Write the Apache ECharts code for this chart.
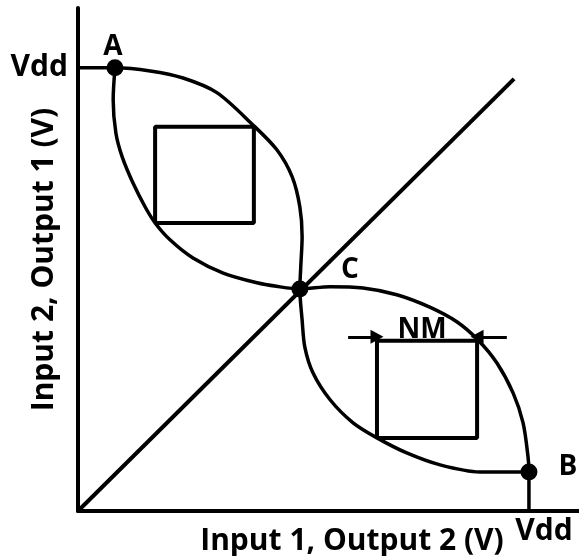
<!DOCTYPE html>
<html>
<head>
<meta charset="utf-8">
<script src="https://cdn.jsdelivr.net/npm/echarts@6/dist/echarts.min.js"></script>
<style>
  html, body { margin: 0; padding: 0; background: #fff; }
  #chart { width: 579px; height: 556px; }
</style>
</head>
<body>
<div id="chart"></div>
<script>
// voltages in units of Vdd (Vdd = 1)
// curve 1: Output 1 vs Input 1 (outer upper arc, then inner lower arc)
var curve1X = [0, 0.082, 0.160, 0.233, 0.308, 0.388, 0.441, 0.475, 0.492, 0.497, 0.494, 0.492,
               0.497, 0.503, 0.521, 0.559, 0.610, 0.663, 0.729, 0.803, 0.891, 1.0];
var curve1Y = [1.0, 1.0, 0.993, 0.977, 0.944, 0.871, 0.815, 0.754, 0.686, 0.619, 0.551, 0.501,
               0.431, 0.370, 0.312, 0.251, 0.199, 0.165, 0.131, 0.104, 0.088, 0.088];

// curve 2: Input 2 vs Output 2 (mirror transfer curve)
var curve2X = [1.0, 1.0, 0.998, 0.987, 0.965, 0.929, 0.887, 0.840, 0.780, 0.707, 0.632, 0.559, 0.492,
               0.440, 0.397, 0.322, 0.255, 0.204, 0.171, 0.149, 0.122, 0.098, 0.084, 0.078, 0.082];
var curve2Y = [0, 0.088, 0.122, 0.199, 0.266, 0.334, 0.386, 0.427, 0.460, 0.488, 0.503, 0.506, 0.501,
               0.507, 0.515, 0.537, 0.571, 0.612, 0.650, 0.686, 0.740, 0.799, 0.853, 0.928, 1.0];

var diagX = [0, 0.967];
var diagY = [0, 0.975];

// noise margin squares
var box1X = [0.171, 0.390, 0.390, 0.171, 0.171];
var box1Y = [0.650, 0.650, 0.867, 0.867, 0.650];
var box2X = [0.663, 0.885, 0.885, 0.663, 0.663];
var box2Y = [0.165, 0.165, 0.384, 0.384, 0.165];

var pointNames = ["A", "B", "C"];
var pointX = [0.082, 1.0, 0.492];
var pointY = [1.0, 0.088, 0.501];

var nmArrowY = 0.393;
var nmLeftArrowX = [0.599, 0.663];
var nmRightArrowX = [0.951, 0.885];
var nmLabelAt = [0.763, 0.409];

var tickValues = [1];
var tickLabels = ["Vdd"];

function zip(xs, ys) {
  return xs.map(function (x, i) { return [x, ys[i]]; });
}

var font = "Open Sans";
var txt = { color: "#000", fontFamily: font, fontWeight: "bold", fontSize: 28 };
var big = { color: "#000", fontFamily: font, fontWeight: "bold", fontSize: 30 };

var chart = echarts.init(document.getElementById("chart"));
var option = {
  animation: false,
  grid: { left: 78, right: 0, top: 8, bottom: 45, containLabel: false, outerBoundsMode: "none" },
  xAxis: {
    type: "value", min: 0, max: 1.111, interval: 1,
    axisLine: { lineStyle: { color: "#000", width: 4 } },
    axisTick: { show: false },
    splitLine: { show: false },
    axisLabel: Object.assign({
      margin: 5, padding: [0, 0, 0, 30], showMaxLabel: false,
      formatter: function (v) { var i = tickValues.indexOf(v); return i < 0 ? "" : tickLabels[i]; }
    }, big),
    name: "Input 1, Output 2 (V)",
    nameLocation: "middle",
    nameGap: 15,
    nameMoveOverlap: false,
    nameTextStyle: Object.assign({ padding: [0, 0, 0, 47] }, big)
  },
  yAxis: {
    type: "value", min: 0, max: 1.135, interval: 1,
    axisLine: { lineStyle: { color: "#000", width: 4 } },
    axisTick: { show: false },
    splitLine: { show: false },
    axisLabel: Object.assign({
      margin: 10, showMaxLabel: false,
      formatter: function (v) { var i = tickValues.indexOf(v); return i < 0 ? "" : tickLabels[i]; }
    }, big),
    name: "Input 2, Output 1 (V)",
    nameLocation: "middle",
    nameGap: 19,
    nameMoveOverlap: false,
    nameTextStyle: big
  },
  series: [
    {
      type: "line", data: zip(curve1X, curve1Y), smooth: 0.3, symbol: "none",
      lineStyle: { color: "#000", width: 3.5 }
    },
    {
      type: "line", data: zip(curve2X, curve2Y), smooth: 0.3, symbol: "none",
      lineStyle: { color: "#000", width: 3.5 }
    },
    {
      type: "line", data: zip(diagX, diagY), symbol: "none",
      lineStyle: { color: "#000", width: 4 }
    },
    {
      type: "line", data: zip(box1X, box1Y), symbol: "none",
      lineStyle: { color: "#000", width: 4 }
    },
    {
      type: "line", data: zip(box2X, box2Y), symbol: "none",
      lineStyle: { color: "#000", width: 4 },
      markLine: {
        silent: true,
        symbol: ["none", "triangle"],
        symbolSize: [14, 13],
        lineStyle: { color: "#000", width: 3, type: "solid" },
        label: { show: false },
        data: [
          [{ coord: [nmLeftArrowX[0], nmArrowY] }, { coord: [nmLeftArrowX[1], nmArrowY] }],
          [{ coord: [nmRightArrowX[0], nmArrowY] }, { coord: [nmRightArrowX[1], nmArrowY] }]
        ]
      },
      markPoint: {
        silent: true,
        symbol: "circle", symbolSize: 1,
        itemStyle: { color: "rgba(0,0,0,0)" },
        label: Object.assign({ show: true, position: "inside", formatter: "NM" }, txt),
        data: [{ coord: nmLabelAt }]
      }
    },
    {
      type: "scatter", symbolSize: 17,
      itemStyle: { color: "#000", opacity: 1 },
      label: Object.assign({ show: true, position: "inside", formatter: function (p) { return p.name; } }, txt),
      data: pointNames.map(function (n, i) {
        var offs = { A: [-2, -21], B: [39, -5], C: [50, -19] };
        return { name: n, value: [pointX[i], pointY[i]], label: { offset: offs[n] } };
      })
    }
  ]
};
chart.setOption(option);
</script>
</body>
</html>
